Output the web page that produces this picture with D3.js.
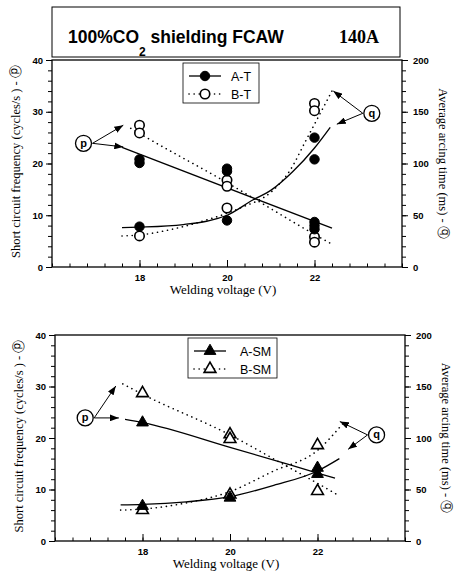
<!DOCTYPE html>
<html>
<head>
<meta charset="utf-8">
<script src="https://cdn.jsdelivr.net/npm/d3@7/dist/d3.min.js"></script>
<style>
  body { margin: 0; background: #fff; }
  svg { display: block; }
</style>
</head>
<body>
<svg id="chart" width="454" height="579"></svg>
<script>
// axis ticks
var voltageTicks = [18, 20, 22];
var freqTicks = [0, 10, 20, 30, 40];
var timeTicks = [0, 50, 100, 150, 200];

// top panel (tube T), [voltage, value]
var atFreq = [[18, 20.8], [18, 20.1], [20, 19.0], [20, 18.5], [22, 8.7], [22, 8.0], [22, 7.3]];
var atTime = [[18, 39], [20, 45], [22, 125], [22, 104]];
var btFreq = [[18, 27.4], [18, 25.9], [20, 16.8], [20, 15.6], [22, 5.8], [22, 4.8]];
var btTime = [[18, 30], [20, 57], [22, 158], [22, 151]];
// trend curves
var atFreqFit = [[17.6, 23.1], [22.4, 7.5]];
var atTimeFit = [[17.6, 38], [18, 38.5], [19, 41], [20, 50], [20.6, 65], [21, 74], [21.5, 92], [22, 115], [22.36, 135]];
var btFreqFit = [[17.8, 26.8], [18, 25.8], [20, 16.3], [22, 6.3], [22.4, 4.4]];
var btTimeFit = [[17.6, 30], [18, 31], [18.8, 37], [19.5, 45], [20.3, 57], [21.05, 74], [21.45, 94], [21.8, 122], [22.4, 170]];

// bottom panel (tube SM)
var asmFreq = [[18, 23.0], [22, 13.0]];
var asmTime = [[18, 34], [20, 42], [22, 71]];
var bsmFreq = [[18, 28.7], [20, 20.7], [20, 19.8], [22, 9.7]];
var bsmTime = [[18, 30], [20, 45], [22, 93]];
var asmFreqFit = [[17.6, 23.6], [18, 23.0], [20, 18.2], [22, 13.2], [22.4, 12.2]];
var asmTimeFit = [[17.5, 35], [18, 35.5], [19, 38], [20, 43], [21, 54], [22, 68], [22.5, 80]];
var bsmFreqFit = [[17.55, 30.5], [18, 28.5], [20, 20.6], [21.3, 14.5], [22, 11.2], [22.45, 9.0]];
var bsmTimeFit = [[17.5, 30], [18, 31], [19, 37], [20, 48], [21, 68], [22, 88], [22.6, 115]];

var svg = d3.select("#chart");

svg.append("defs").append("marker")
  .attr("id", "head")
  .attr("viewBox", "0 0 8 6")
  .attr("refX", 8)
  .attr("refY", 3)
  .attr("markerWidth", 9)
  .attr("markerHeight", 7)
  .attr("markerUnits", "userSpaceOnUse")
  .attr("orient", "auto")
  .append("path")
  .attr("d", "M0,0L8,3L0,6Z")
  .attr("fill", "#000");

var tickFont = "'Liberation Sans', Arial, sans-serif";
var serif = "'Liberation Serif', 'Times New Roman', serif";

function drawPanel(cfg) {
  var x = d3.scaleLinear().domain([16, 24]).range([cfg.left, cfg.right]);
  var yL = d3.scaleLinear().domain([0, 40]).range([cfg.bottom, cfg.top]);
  var yR = d3.scaleLinear().domain([0, 200]).range([cfg.bottom, cfg.top]);
  var g = svg.append("g");

  // frame
  g.append("rect")
    .attr("x", cfg.left)
    .attr("y", cfg.top)
    .attr("width", cfg.right - cfg.left)
    .attr("height", cfg.bottom - cfg.top)
    .attr("fill", "none")
    .attr("stroke", "#000")
    .attr("stroke-width", 1.3);

  // x axis: minor ticks then labelled ones
  g.append("g")
    .attr("transform", "translate(0," + cfg.bottom + ")")
    .call(d3.axisBottom(x).tickValues(d3.range(16, 24.01, 0.4)).tickSize(-3.5).tickFormat(""));
  g.append("g")
    .attr("transform", "translate(0," + cfg.bottom + ")")
    .call(d3.axisBottom(x).tickValues(voltageTicks).tickSize(-7).tickPadding(7).tickFormat(d3.format("d")));

  g.append("g")
    .attr("transform", "translate(" + cfg.left + ",0)")
    .call(d3.axisLeft(yL).tickValues(d3.range(0, 40.1, 2)).tickSize(4).tickFormat(""));
  g.append("g")
    .attr("transform", "translate(" + cfg.left + ",0)")
    .call(d3.axisLeft(yL).tickValues(freqTicks).tickSize(6).tickPadding(3).tickFormat(d3.format("d")));

  g.append("g")
    .attr("transform", "translate(" + cfg.right + ",0)")
    .call(d3.axisRight(yR).tickValues(d3.range(0, 200.1, 10)).tickSize(4).tickFormat(""));
  g.append("g")
    .attr("transform", "translate(" + cfg.right + ",0)")
    .call(d3.axisRight(yR).tickValues(timeTicks).tickSize(6).tickPadding(5).tickFormat(d3.format("d")));

  g.selectAll(".domain").remove();
  g.selectAll(".tick line").attr("stroke", "#000").attr("stroke-width", 1);
  g.selectAll(".tick text")
    .attr("font-family", tickFont)
    .attr("font-weight", "bold")
    .attr("font-size", 9.5)
    .attr("fill", "#000");

  // axis titles
  g.append("text")
    .attr("transform", "translate(" + (cfg.left - 32) + "," + ((cfg.top + cfg.bottom) / 2 - 2) + ") rotate(-90)")
    .attr("text-anchor", "middle")
    .attr("font-family", serif)
    .attr("font-size", 12.5)
    .text("Short circuit frequency (cycles/s ) - \u24DF");
  g.append("text")
    .attr("transform", "translate(" + (cfg.right + 37) + "," + ((cfg.top + cfg.bottom) / 2) + ") rotate(90)")
    .attr("text-anchor", "middle")
    .attr("font-family", serif)
    .attr("font-size", 12.5)
    .text("Average arcing time (ms) - \u24E0");
  g.append("text")
    .attr("x", (cfg.left + cfg.right) / 2 - 4)
    .attr("y", cfg.bottom + 27)
    .attr("text-anchor", "middle")
    .attr("font-family", serif)
    .attr("font-size", 13)
    .text("Welding voltage (V)");

  // trend curves
  var lineL = d3.line().x(function(d) { return x(d[0]); }).y(function(d) { return yL(d[1]); }).curve(d3.curveMonotoneX);
  var lineR = d3.line().x(function(d) { return x(d[0]); }).y(function(d) { return yR(d[1]); }).curve(d3.curveMonotoneX);

  function curve(data, line, dotted) {
    g.append("path")
      .attr("d", line(data))
      .attr("fill", "none")
      .attr("stroke", "#000")
      .attr("stroke-width", dotted ? 1.6 : 1.3)
      .attr("stroke-linecap", dotted ? "round" : "butt")
      .attr("stroke-dasharray", dotted ? "0.1,5" : null);
  }
  curve(cfg.aFreqFit, lineL, false);
  curve(cfg.aTimeFit, lineR, false);
  curve(cfg.bFreqFit, lineL, true);
  curve(cfg.bTimeFit, lineR, true);

  // markers
  var sym = d3.symbol().type(cfg.symbol).size(cfg.symbol === d3.symbolCircle ? 70 : 60);
  function points(data, y, filled) {
    g.selectAll(null)
      .data(data)
      .enter().append("path")
      .attr("d", sym)
      .attr("transform", function(d) { return "translate(" + x(d[0]) + "," + y(d[1]) + ")"; })
      .attr("fill", filled ? "#000" : "#fff")
      .attr("stroke", "#000")
      .attr("stroke-width", filled ? 1 : 1.6);
  }
  points(cfg.bFreq, yL, false);
  points(cfg.bTime, yR, false);
  points(cfg.aFreq, yL, true);
  points(cfg.aTime, yR, true);

  // legend
  var lg = g.append("g").attr("transform", "translate(" + cfg.legend[0] + "," + cfg.legend[1] + ")");
  lg.append("rect")
    .attr("width", cfg.legend[2])
    .attr("height", 40)
    .attr("fill", "#fff")
    .attr("stroke", "#000")
    .attr("stroke-width", 0.8);
  cfg.names.forEach(function(name, i) {
    var ly = 13 + i * 18;
    lg.append("line")
      .attr("x1", 6)
      .attr("x2", 38)
      .attr("y1", ly)
      .attr("y2", ly)
      .attr("stroke", "#000")
      .attr("stroke-width", i ? 1.6 : 1.3)
      .attr("stroke-linecap", i ? "round" : "butt")
      .attr("stroke-dasharray", i ? "0.1,5" : null);
    lg.append("path")
      .attr("d", sym)
      .attr("transform", "translate(22," + ly + ")")
      .attr("fill", i ? "#fff" : "#000")
      .attr("stroke", "#000")
      .attr("stroke-width", i ? 1.6 : 1);
    lg.append("text")
      .attr("x", cfg.legend[3])
      .attr("y", ly + 4.5)
      .attr("font-family", tickFont)
      .attr("font-size", 12.5)
      .text(name);
  });

  // circled p / q callouts with arrows
  function callout(letter, c, tips, y) {
    var cx = x(c[0]), cy = y(c[1]);
    tips.forEach(function(t) {
      g.append("line")
        .attr("x1", cx + (letter === "p" ? 9 : -9))
        .attr("y1", cy)
        .attr("x2", x(t[0]))
        .attr("y2", y(t[1]))
        .attr("stroke", "#000")
        .attr("stroke-width", 1)
        .attr("marker-end", "url(#head)");
    });
    g.append("circle")
      .attr("cx", cx)
      .attr("cy", cy)
      .attr("r", 8)
      .attr("fill", "#fff")
      .attr("stroke", "#000")
      .attr("stroke-width", 1.3);
    g.append("text")
      .attr("x", cx)
      .attr("y", cy + 3.5)
      .attr("text-anchor", "middle")
      .attr("font-family", tickFont)
      .attr("font-weight", "bold")
      .attr("font-size", 11)
      .text(letter);
  }
  callout("p", cfg.p[0], cfg.p.slice(1), yL);
  callout("q", cfg.q[0], cfg.q.slice(1), yR);
}

drawPanel({
  left: 52, right: 402, top: 60, bottom: 267,
  symbol: d3.symbolCircle,
  names: ["A-T", "B-T"],
  legend: [183, 63, 76, 48],
  aFreq: atFreq, aTime: atTime, bFreq: btFreq, bTime: btTime,
  aFreqFit: atFreqFit, aTimeFit: atTimeFit, bFreqFit: btFreqFit, bTimeFit: btTimeFit,
  p: [[16.72, 23.9], [17.63, 27.4], [17.63, 23.2]],
  q: [[23.31, 148.5], [22.43, 170], [22.51, 138]]
});

drawPanel({
  left: 55, right: 405, top: 335, bottom: 541,
  symbol: d3.symbolTriangle,
  names: ["A-SM", "B-SM"],
  legend: [188, 338, 89, 52],
  aFreq: asmFreq, aTime: asmTime, bFreq: bsmFreq, bTime: bsmTime,
  aFreqFit: asmFreqFit, aTimeFit: asmTimeFit, bFreqFit: bsmFreqFit, bTimeFit: bsmTimeFit,
  p: [[16.69, 23.9], [17.39, 30.1], [17.46, 23.9]],
  q: [[23.35, 103], [22.51, 116], [22.7, 89]]
});

// title box above the top panel
svg.append("rect")
  .attr("x", 52)
  .attr("y", 7)
  .attr("width", 348)
  .attr("height", 50)
  .attr("fill", "none")
  .attr("stroke", "#000")
  .attr("stroke-width", 1);

var title = svg.append("text")
  .attr("x", 68)
  .attr("y", 43)
  .attr("font-family", tickFont)
  .attr("font-weight", "bold")
  .attr("font-size", 17.5);
title.append("tspan").text("100%CO");
title.append("tspan").attr("font-size", 12).attr("dy", 13).text("2");
title.append("tspan").attr("dy", -13).text(" shielding FCAW");

svg.append("text")
  .attr("x", 339)
  .attr("y", 43)
  .attr("font-family", serif)
  .attr("font-weight", "bold")
  .attr("font-size", 18)
  .text("140A");
</script>
</body>
</html>
